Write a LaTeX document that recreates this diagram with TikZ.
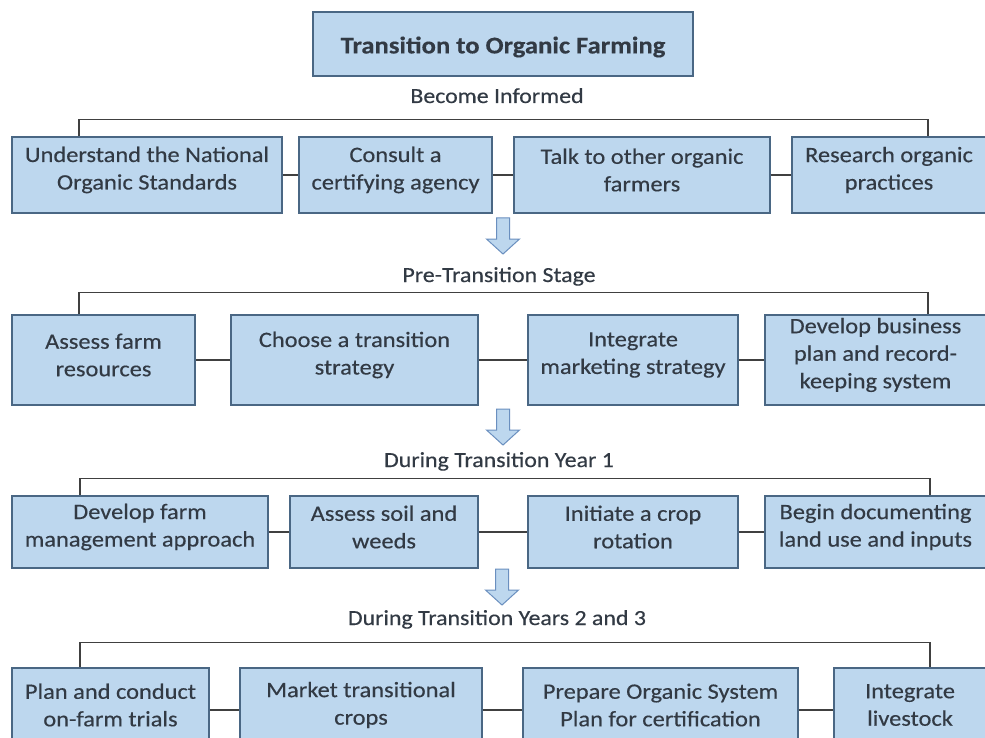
\documentclass[tikz,border=0pt]{standalone}
\usepackage{fontspec}
\setmainfont[FakeStretch=1.11,FakeBold=0.35]{Carlito}
\definecolor{boxfill}{HTML}{BDD7EE}
\definecolor{boxline}{HTML}{4A6784}
\definecolor{conline}{HTML}{404040}
\definecolor{txtcol}{HTML}{323A44}
\definecolor{arrline}{HTML}{6A8FBF}
\tikzset{
  box/.style={draw=boxline, fill=boxfill, line width=1.2pt, inner sep=0pt, rectangle},
  txt/.style={text=txtcol, align=center, inner sep=0pt, font=\fontsize{22}{27.5}\selectfont},
  lbl/.style={text=txtcol, inner sep=0pt, anchor=base, font=\fontsize{21.5}{26}\selectfont},
  ttl/.style={text=txtcol, inner sep=0pt, font=\fontsize{24}{28}\selectfont\bfseries},
  con/.style={draw=conline, line width=1.5pt},
  blockarrow/.style={draw=arrline, fill=boxfill, line width=1pt, line join=miter}
}
\newcommand\downblock[2]{%
  \draw[blockarrow] ({#1-6.5},#2) -- ({#1+6.5},#2) -- ({#1+6.5},{#2+21}) -- ({#1+16.5},{#2+21}) -- (#1,{#2+36}) -- ({#1-16.5},{#2+21}) -- ({#1-6.5},{#2+21}) -- cycle;}
\begin{document}
\begin{tikzpicture}[x=1pt,y=-1pt]
\clip (0,0) rectangle (985,738);
\fill[white] (0,0) rectangle (985,738);
% title
\node[box, minimum width=380pt, minimum height=64pt] (t) at (503,44) {};
\node[ttl] (tt) at ([yshift=-3pt]t.center) {Transition to Organic Farming};
% stage labels
\node[lbl] (l1) at (497,103) {Become Informed};
\node[lbl] (l2) at (499,282) {Pre-Transition Stage};
\node[lbl] (l3) at (499,467) {During Transition Year 1};
\node[lbl] (l4) at (497,625) {During Transition Years 2 and 3};
% row 1
\node[box, minimum width=270pt, minimum height=76pt] (a1) at (147,175) {};
\node[box, minimum width=193pt, minimum height=76pt] (a2) at (395.5,175) {};
\node[box, minimum width=256pt, minimum height=76pt] (a3) at (642,175) {};
\node[box, minimum width=194pt, minimum height=76pt] (a4) at (889,175) {};
\node[txt] (a1t) at ([yshift=5pt]a1.center) {Understand the National\\Organic Standards};
\node[txt] (a2t) at ([yshift=5pt]a2.center) {Consult a\\certifying agency};
\node[txt] (a3t) at ([yshift=5pt]a3.center) {Talk to other organic\\farmers};
\node[txt] (a4t) at ([yshift=5pt]a4.center) {Research organic\\practices};
% row 2
\node[box, minimum width=183pt, minimum height=90pt] (b1) at (103.5,360) {};
\node[box, minimum width=247pt, minimum height=90pt] (b2) at (354.5,360) {};
\node[box, minimum width=210pt, minimum height=90pt] (b3) at (633,360) {};
\node[box, minimum width=221pt, minimum height=90pt] (b4) at (875.5,360) {};
\node[txt] (b1t) at ([yshift=5pt]b1.center) {Assess farm\\resources};
\node[txt] (b2t) at ([yshift=5pt]b2.center) {Choose a transition\\strategy};
\node[txt] (b3t) at ([yshift=5pt]b3.center) {Integrate\\marketing strategy};
\node[txt] (b4t) at ([yshift=5pt]b4.center) {Develop business\\plan and record-\\keeping system};
% row 3
\node[box, minimum width=256pt, minimum height=72pt] (c1) at (140,532) {};
\node[box, minimum width=188pt, minimum height=72pt] (c2) at (384,532) {};
\node[box, minimum width=210pt, minimum height=72pt] (c3) at (633,532) {};
\node[box, minimum width=221pt, minimum height=72pt] (c4) at (875.5,532) {};
\node[txt] (c1t) at ([yshift=5pt]c1.center) {Develop farm\\management approach};
\node[txt] (c2t) at ([yshift=5pt]c2.center) {Assess soil and\\weeds};
\node[txt] (c3t) at ([yshift=5pt]c3.center) {Initiate a crop\\rotation};
\node[txt] (c4t) at ([yshift=5pt]c4.center) {Begin documenting\\land use and inputs};
% row 4
\node[box, minimum width=197pt, minimum height=84pt] (d1) at (110.5,710) {};
\node[box, minimum width=242pt, minimum height=84pt] (d2) at (361,710) {};
\node[box, minimum width=275pt, minimum height=84pt] (d3) at (660.5,710) {};
\node[box, minimum width=152pt, minimum height=84pt] (d4) at (910,710) {};
\node[txt] (d1t) at ([yshift=5pt]d1.center) {Plan and conduct\\on-farm trials};
\node[txt] (d2t) at ([yshift=5pt]d2.center) {Market transitional\\crops};
\node[txt] (d3t) at ([yshift=5pt]d3.center) {Prepare Organic System\\Plan for certification};
\node[txt] (d4t) at ([yshift=5pt]d4.center) {Integrate\\livestock};
% brackets
\draw[con] ([xshift=-68pt]a1.north) -- ++(0,-17) -| ([xshift=39pt]a4.north);
\draw[con] ([xshift=-24.5pt]b1.north) -- ++(0,-22) -| ([xshift=52.5pt]b4.north);
\draw[con] ([xshift=-60pt]c1.north) -- ++(0,-17) -| ([xshift=54.5pt]c4.north);
\draw[con] ([xshift=-30.5pt]d1.north) -- ++(0,-25) -| ([xshift=20pt]d4.north);
% horizontal connectors
\foreach \r in {a,b,c,d}{
  \draw[con] (\r1.east) -- (\r2.west);
  \draw[con] (\r2.east) -- (\r3.west);
  \draw[con] (\r3.east) -- (\r4.west);
}
% block arrows
\downblock{503}{218}
\downblock{503}{409}
\downblock{502}{569}
\end{tikzpicture}
\end{document}
